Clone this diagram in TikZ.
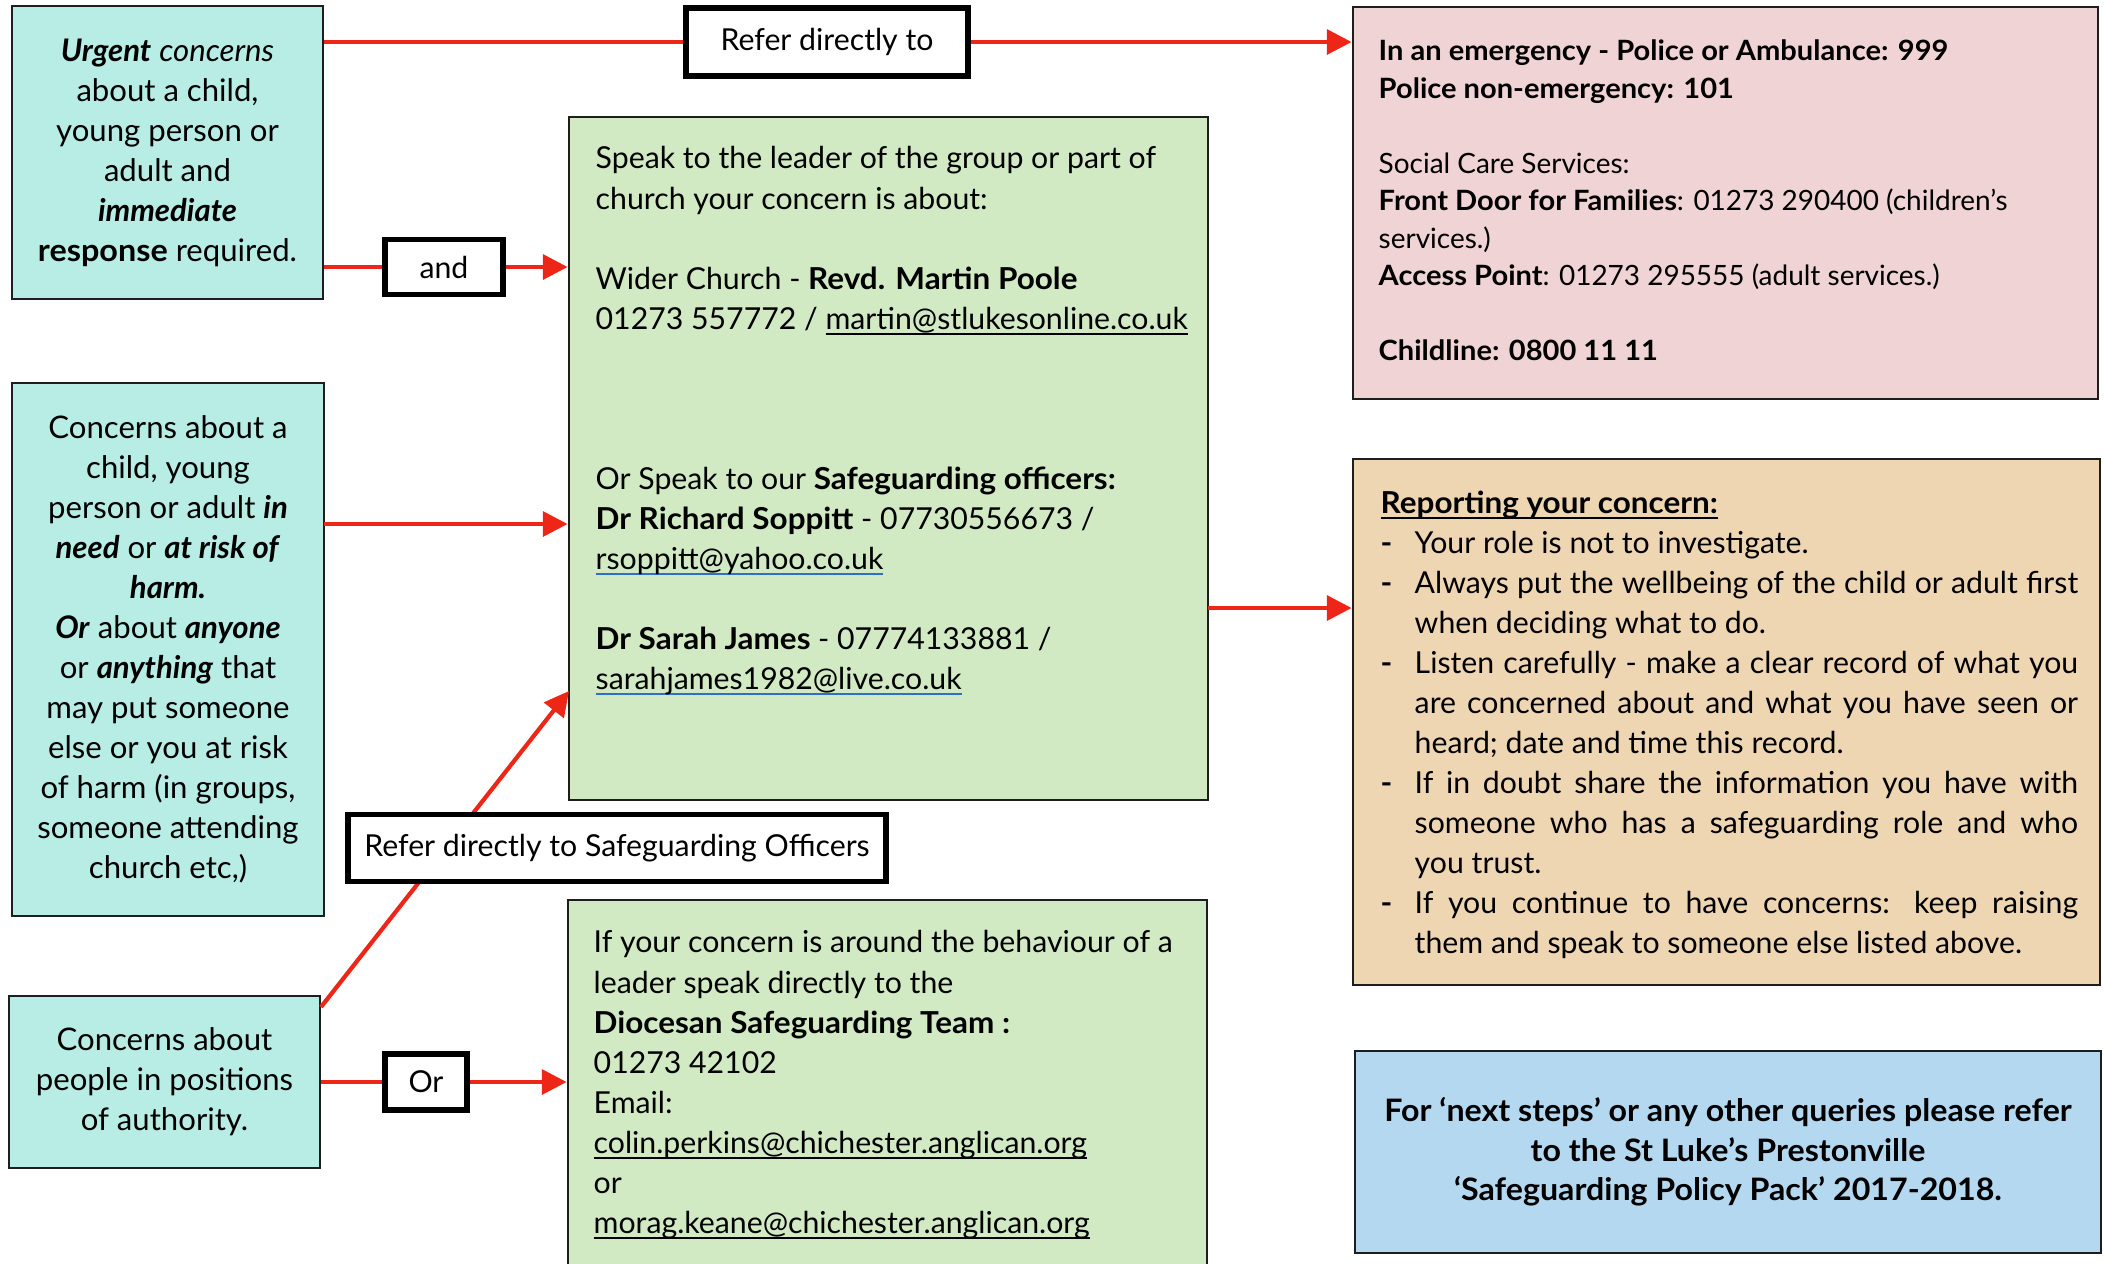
\documentclass[tikz,border=0pt]{standalone}
\usepackage{fontspec}
\setmainfont{Lato}[BoldFeatures={FakeStretch=1.04}]
\usetikzlibrary{arrows.meta,fit}

\definecolor{tealbox}{HTML}{B8EDE6}
\definecolor{pinkbox}{HTML}{F0D3D4}
\definecolor{greenbox}{HTML}{D1EAC4}
\definecolor{orangebox}{HTML}{EED6B3}
\definecolor{bluebox}{HTML}{B4D8EF}
\definecolor{arrowred}{HTML}{EE2617}
\definecolor{edgegray}{HTML}{1E1E1E}
\definecolor{linkblue}{HTML}{2E6FC8}

\newcommand{\bodysize}{\fontsize{8.6}{11.38}\selectfont}
\newcommand{\bi}[1]{\textbf{\textit{#1}}}
\newsavebox{\ulbox}
\newcommand{\ulcol}[2]{\sbox{\ulbox}{#2}\makebox[0pt][l]{\textcolor{#1}{\rule[-1.6pt]{\wd\ulbox}{0.5pt}}}\usebox{\ulbox}}
\newcommand{\blueul}[1]{\ulcol{linkblue}{#1}}
\newcommand{\blackul}[1]{\ulcol{black}{#1}}
\newcommand{\dashitem}{\makebox[0.34cm][l]{\textbf{-}}}
\newcommand{\hang}{\hspace*{0.34cm}}
\newcommand{\fullline}[1]{\makebox[6.63cm][s]{#1}}

\begin{document}
\begin{tikzpicture}[x=0.01cm, y=-0.01cm,
    info_box/.style={draw=edgegray, line width=0.8pt, inner sep=0pt},
    box_text/.style={inner sep=0pt, align=center, font=\fontsize{8.85}{11.38}\selectfont},
    label_box/.style={draw=black, fill=white, line width=1.6pt, inner sep=0pt, font=\fontsize{8.6}{11}\selectfont},
    body_text/.style={anchor=north west, inner sep=0pt, align=left, font=\bodysize},
    red_line/.style={draw=arrowred, line width=1.2pt},
    red_arrow/.style={red_line, -{Triangle[length=7pt,width=7pt]}}]

    \clip (0,0) rectangle (2105,1263);

    % who the concern is about
    \node[info_box, fill=tealbox, fit={(12,6) (323,299)}] (urgent) {};
    \node[info_box, fill=tealbox, fit={(12,383) (324,916)}] (concerns) {};
    \node[info_box, fill=tealbox, fit={(9,996) (320,1168)}] (authority) {};
    \node[box_text] (urgent_text) at (urgent) {\bi{Urgent} \textit{concerns}\\ about a child,\\ young person or\\ adult and\\ \bi{immediate}\\ \textbf{response} required.};
    \node[box_text] (concerns_text) at (concerns) {Concerns about a\\ child, young\\ person or adult \bi{in}\\ \bi{need} or \bi{at risk of}\\ \bi{harm.}\\ \bi{Or} about \bi{anyone}\\ or \bi{anything} that\\ may put someone\\ else or you at risk\\ of harm (in groups,\\ someone attending\\ church etc,)};
    \node[box_text] (authority_text) at (authority) {Concerns about\\ people in positions\\ of authority.};

    % who to speak to
    \node[info_box, fill=greenbox, fit={(569,117) (1208,800)}] (speak) {};
    \node[info_box, fill=greenbox, fit={(568,900) (1207,1300)}] (leader) {};
    \node[info_box, fill=pinkbox, fit={(1353,7) (2098,399)}] (emergency) {};
    \node[info_box, fill=orangebox, fit={(1353,459) (2100,985)}] (report) {};
    \node[info_box, fill=bluebox, fit={(1355,1051) (2101,1253)}] (policy) {};
    \node[box_text, font=\fontsize{8.8}{11.2}\selectfont\bfseries] (policy_text) at (policy) {For ‘next steps’ or any other queries please refer\\ to the St Luke’s Prestonville\\ ‘Safeguarding Policy Pack’ 2017-2018.};

    \node[body_text] (speak_text) at (595,146) {Speak to the leader of the group or part of\\
        church your concern is about:\\[11.38pt]
        Wider Church - \textbf{Revd. Martin Poole}\\
        01273 557772 / \blackul{martin@stlukesonline.co.uk}\\[34.14pt]
        Or Speak to our \textbf{Safeguarding officers:}\\
        \textbf{Dr Richard Soppitt} - 07730556673 /\\
        \blueul{rsoppitt@yahoo.co.uk}\\[11.38pt]
        \textbf{Dr Sarah James} - 07774133881 /\\
        \blueul{sarahjames1982@live.co.uk}};
    \node[body_text] (leader_text) at (593,930) {If your concern is around the behaviour of a\\
        leader speak directly to the\\
        \textbf{Diocesan Safeguarding Team :}\\
        01273 42102\\
        Email:\\
        \blackul{colin.perkins@chichester.anglican.org}\\
        or\\
        \blackul{morag.keane@chichester.anglican.org}};
    \node[body_text, font=\fontsize{7.95}{10.67}\selectfont] (emergency_text) at (1378,39) {\textbf{In an emergency - Police or Ambulance: 999}\\
        \textbf{Police non-emergency: 101}\\[10.67pt]
        Social Care Services:\\
        \textbf{Front Door for Families}: 01273 290400 (children’s\\
        services.)\\
        \textbf{Access Point}: 01273 295555 (adult services.)\\[10.67pt]
        \textbf{Childline: 0800 11 11}};
    \node[body_text] (report_text) at (1380,490) {\blackul{\textbf{Reporting your concern:}}\\
        \dashitem Your role is not to investigate.\\
        \dashitem\fullline{Always put the wellbeing of the child or adult first}\\
        \hang when deciding what to do.\\
        \dashitem\fullline{Listen carefully - make a clear record of what you}\\
        \hang\fullline{are concerned about and what you have seen or}\\
        \hang heard; date and time this record.\\
        \dashitem\fullline{If in doubt share the information you have with}\\
        \hang\fullline{someone who has a safeguarding role and who}\\
        \hang you trust.\\
        \dashitem\fullline{If you continue to have concerns: keep raising}\\
        \hang them and speak to someone else listed above.};

    % routes
    \node[label_box, minimum width=2.82cm, minimum height=0.68cm] (refer1) at (827,42) {Refer directly to};
    \node[label_box, minimum width=1.18cm, minimum height=0.55cm] (and) at (444,267) {and};
    \node[label_box, minimum width=0.82cm, minimum height=0.56cm] (or) at (426,1082) {Or};

    \coordinate (need_out) at (324,524);
    \coordinate (speak_out) at (1208,608);
    \coordinate (authority_out) at (321,1007);
    \coordinate (officer_in) at (569,691);

    \draw[red_line] (urgent.east |- refer1.west) -- (refer1.west);
    \draw[red_arrow] (refer1.east) -- (emergency.west |- refer1.east);
    \draw[red_line] (urgent.east |- and.west) -- (and.west);
    \draw[red_arrow] (and.east) -- (speak.west |- and.east);
    \draw[red_arrow] (need_out) -- (speak.west |- need_out);
    \draw[red_arrow] (speak_out) -- (report.west |- speak_out);
    \draw[red_line] (authority.east) -- (or.west);
    \draw[red_arrow] (or.east) -- (leader.west |- or.east);
    \draw[red_arrow] (authority_out) -- (officer_in);

    \node[label_box, minimum width=5.38cm, minimum height=0.67cm] (refer2) at (617,848) {Refer directly to Safeguarding Officers};
\end{tikzpicture}
\end{document}
